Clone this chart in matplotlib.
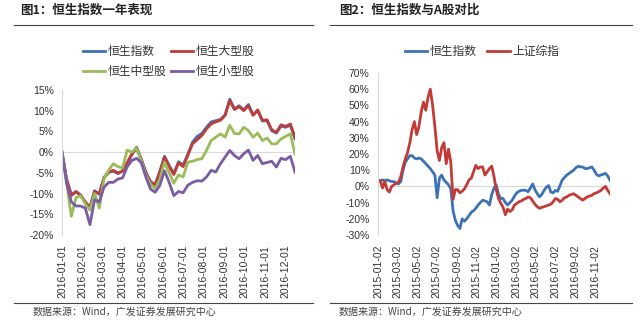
import numpy as np
import pandas as pd
import matplotlib
matplotlib.use("Agg")
import matplotlib.pyplot as plt
from matplotlib.lines import Line2D
from matplotlib.ticker import FuncFormatter

plt.rcParams['font.family'] = ['Liberation Sans', 'Noto Sans CJK SC', 'DejaVu Sans']

# ---- chart 1: Hang Seng indexes over 2016 (weekly readings, % change) ----
start_1y = '2016-01-01'
hsi_1y = [0, -6.8, -10.2, -9.6, -10.3, -12.2, -13.2, -9.3, -10.2, -6.1,
          -4.9, -4.6, -5.2, -4.5, -2.7, -0.6, 1.2, -1.6, -4.8, -7.1,
          -7.8, -4.6, -1.0, -3.2, -5.2, -2.3, -3.1, -0.5, 2.4, 3.8,
          4.5, 6.0, 7.3, 7.6, 7.9, 9.0, 12.8, 10.4, 11.2, 10.2,
          11.5, 9.0, 10.0, 7.5, 7.6, 5.2, 4.6, 6.3, 6.0, 6.5,
          3.2]
large_cap = [0, -6.5, -10.5, -9.5, -10.5, -12, -13.5, -9.5, -10, -6.3,
             -4.8, -4.4, -5, -4.6, -2.5, -0.4, 1.0, -1.8, -5, -7.3,
             -8, -4.8, -1.2, -3.5, -5.4, -2.6, -3.5, -0.8, 2.0, 3.0,
             4.0, 5.6, 6.8, 7.3, 7.7, 8.9, 12.5, 10.3, 11.0, 10.0,
             11.2, 8.9, 10.2, 7.7, 7.8, 5.4, 4.8, 6.6, 6.2, 6.8,
             3.6]
mid_cap = [0, -7.5, -15.5, -11, -10.5, -12.5, -14, -10, -13.5, -6.5,
           -4.4, -2.8, -3.5, -3.8, 0.5, 0, 1.0, -2, -5.5, -7.8,
           -8.8, -6.5, -2.4, -5, -7.5, -5.5, -6, -2.4, -2.2, -1.8,
           -1.6, 0.4, 2.8, 3.6, 4.4, 3.6, 6.5, 4.5, 4.4, 6.0,
           5.2, 3.6, 4.6, 2.8, 3.4, 2.0, 2.0, 3.2, 3.8, 4.4,
           -0.4]
small_cap = [0, -7.5, -12, -13, -13, -13.5, -17.5, -11.5, -12, -8.5,
             -7.3, -7.3, -6.5, -6.2, -3.5, -2, -1.5, -2.5, -6, -8.9,
             -9.7, -8, -4.5, -7.3, -10.5, -9.5, -9.8, -8, -7.3, -6.9,
             -7.0, -6, -4.4, -4.8, -2.8, -1.2, 0.4, -0.8, -1.6, -0.4,
             0.5, -2, -0.8, -2.8, -2.5, -2.2, -3.6, -1.5, -1.8, -1.0,
             -4.8]
ticks_1y = ['2016-%02d-01' % m for m in range(1, 13)]

# ---- chart 2: HSI vs Shanghai Composite, 2015-2016 (weekly, %) ----
start_2y = '2015-01-02'
hsi_2y = [4, 3.5, 4, 3.5, 4, 3.5, 3, 3, 2, 1.5,
          3, 10, 15, 17, 19, 19, 17.5, 17, 17.5, 17,
          15.5, 14, 12.5, 11, 9, 7, -7, 5, 7, 4,
          2.5, 1, -1.5, -15, -21, -24, -26, -20, -21.5, -20,
          -18, -16, -15, -13.5, -11.5, -10, -8.5, -9, -9.5, -11.5,
          -5, -1, 0.8, -5, -7.5, -7.5, -10, -11.5, -10, -8.5,
          -6, -4, -3, -2.5, -2.3, -2.5, -3.3, -1, 1.5, -2,
          -4.5, -6.4, -5, -2.5, -0.5, 0.5, -3.5, -4, -2.5, -3,
          0.5, 4, 5.5, 7, 8, 9, 10, 11.5, 12.5, 12,
          12, 11, 11, 11.5, 12, 10, 7.5, 6.5, 7, 7.5,
          8, 6.5, 3.8]
shcomp_2y = [3, 3.5, -1, 3, -2, -3.5, 0, 1, 2, 2.5,
             6, 12, 17, 21, 27, 35, 40, 32, 37, 46,
             52, 47, 55, 60, 50, 37, 22, 16, 24, 27,
             14, 23, 15, -8, -2, -2, -4, -3, -1.5, 1,
             4, 5, 9, 13, 11, 12, 12, 7, 9, 11,
             12.5, 6, -2, -7.5, -10.5, -13, -17.5, -14, -15.5, -14.5,
             -11.5, -10.5, -9.5, -9, -8, -7.5, -6.5, -7, -9, -11,
             -12.5, -13.5, -13, -12.5, -12, -11.5, -11, -9.5, -7.5, -8,
             -9.5, -8.5, -7, -6.5, -5.5, -5, -4.5, -5.5, -6.5, -7.5,
             -8.5, -7.5, -6.5, -6, -5.5, -4.5, -4, -3.3, -2.5, -1,
             0, -2.5, -4.5]
ticks_2y = ['2015-01-02', '2015-03-02', '2015-05-02', '2015-07-02', '2015-09-02',
            '2015-11-02', '2016-01-02', '2016-03-02', '2016-05-02', '2016-07-02',
            '2016-09-02', '2016-11-02']

BLUE = '#3D73B6'
RED = '#C23B37'
GREEN = '#9BBB59'
PURPLE = '#7A5CA6'
GRID = '#d9d9d9'
TXT = '#333333'
W, H = 640.0, 321.0

pct = FuncFormatter(lambda v, p: '%d%%' % round(v))


def styleAxes(ax, ticks):
    for s in ['top', 'right', 'bottom']:
        ax.spines[s].set_visible(False)
    ax.spines['left'].set_color(GRID)
    ax.spines['left'].set_linewidth(0.8)
    ax.axhline(0, color=GRID, lw=0.8, zorder=0)
    ax.yaxis.set_major_formatter(pct)
    ax.set_xticks(pd.to_datetime(ticks))
    ax.set_xticklabels(ticks, rotation=90, fontsize=7.5, color=TXT)
    ax.tick_params(axis='x', length=0, pad=7)
    ax.tick_params(axis='y', length=0, pad=6, labelsize=7.5, labelcolor=TXT)


fig = plt.figure(figsize=(6.4, 3.21), dpi=100)

# left chart
ax1 = fig.add_axes([62 / W, 1 - 235 / H, (295 - 62) / W, (235 - 90) / H])
d1 = pd.date_range(start_1y, periods=len(hsi_1y), freq='7D')
h1, = ax1.plot(d1, hsi_1y, color=BLUE, lw=2.0, label='恒生指数')
h2, = ax1.plot(d1, large_cap, color=RED, lw=2.0, label='恒生大型股')
h3, = ax1.plot(d1, mid_cap, color=GREEN, lw=2.0, label='恒生中型股')
h4, = ax1.plot(d1, small_cap, color=PURPLE, lw=2.0, label='恒生小型股')
ax1.set_xlim(d1[0], d1[-1])
ax1.set_ylim(-20, 15)
ax1.set_yticks(np.arange(-20, 16, 5))
styleAxes(ax1, ticks_1y)
fig.legend(handles=[h1, h3, h2, h4], ncol=2, frameon=False, fontsize=8.5,
           loc='upper left', bbox_to_anchor=(77 / W, 1 - 40 / H),
           handlelength=1.9, handletextpad=0.2, columnspacing=0.35,
           labelspacing=0.7, borderpad=0, labelcolor=TXT)

# right chart
ax2 = fig.add_axes([378 / W, 1 - 235 / H, (610 - 378) / W, (235 - 73) / H])
d2 = pd.date_range(start_2y, periods=len(hsi_2y), freq='7D')
g1, = ax2.plot(d2, hsi_2y, color=BLUE, lw=2.0, label='恒生指数')
g2, = ax2.plot(d2, shcomp_2y, color=RED, lw=2.0, label='上证综指')
ax2.set_xlim(d2[0], d2[-1])
ax2.set_ylim(-30, 70)
ax2.set_yticks(np.arange(-30, 71, 10))
styleAxes(ax2, ticks_2y)
fig.legend(handles=[g1, g2], ncol=2, frameon=False, fontsize=8.5,
           loc='upper left', bbox_to_anchor=(399 / W, 1 - 40 / H),
           handlelength=1.9, handletextpad=0.2, columnspacing=0.9,
           borderpad=0, labelcolor=TXT)

# titles, rules and source notes
fig.text(20 / W, 1 - 10 / H, '图1：恒生指数一年表现', fontsize=9, fontweight='bold',
         color='#222222', va='center', family=['Noto Sans CJK SC'])
fig.text(339 / W, 1 - 10 / H, '图2：恒生指数与A股对比', fontsize=9, fontweight='bold',
         color='#222222', va='center', family=['Noto Sans CJK SC'])
for x0, x1 in [(14, 313), (330, 632)]:
    fig.add_artist(Line2D([x0 / W, x1 / W], [1 - 25 / H] * 2, color='#444444', lw=0.8))
    fig.add_artist(Line2D([x0 / W, x1 / W], [1 - 303 / H] * 2, color='#444444', lw=0.8))
fig.text(33 / W, 1 - 312 / H, '数据来源：Wind，广发证券发展研究中心', fontsize=7.2,
         color='#444444', va='center', family=['Noto Sans CJK SC'])
fig.text(339 / W, 1 - 312 / H, '数据来源：Wind，广发证券发展研究中心', fontsize=7.2,
         color='#444444', va='center', family=['Noto Sans CJK SC'])

fig.savefig('out.png', dpi=100, facecolor='white')
